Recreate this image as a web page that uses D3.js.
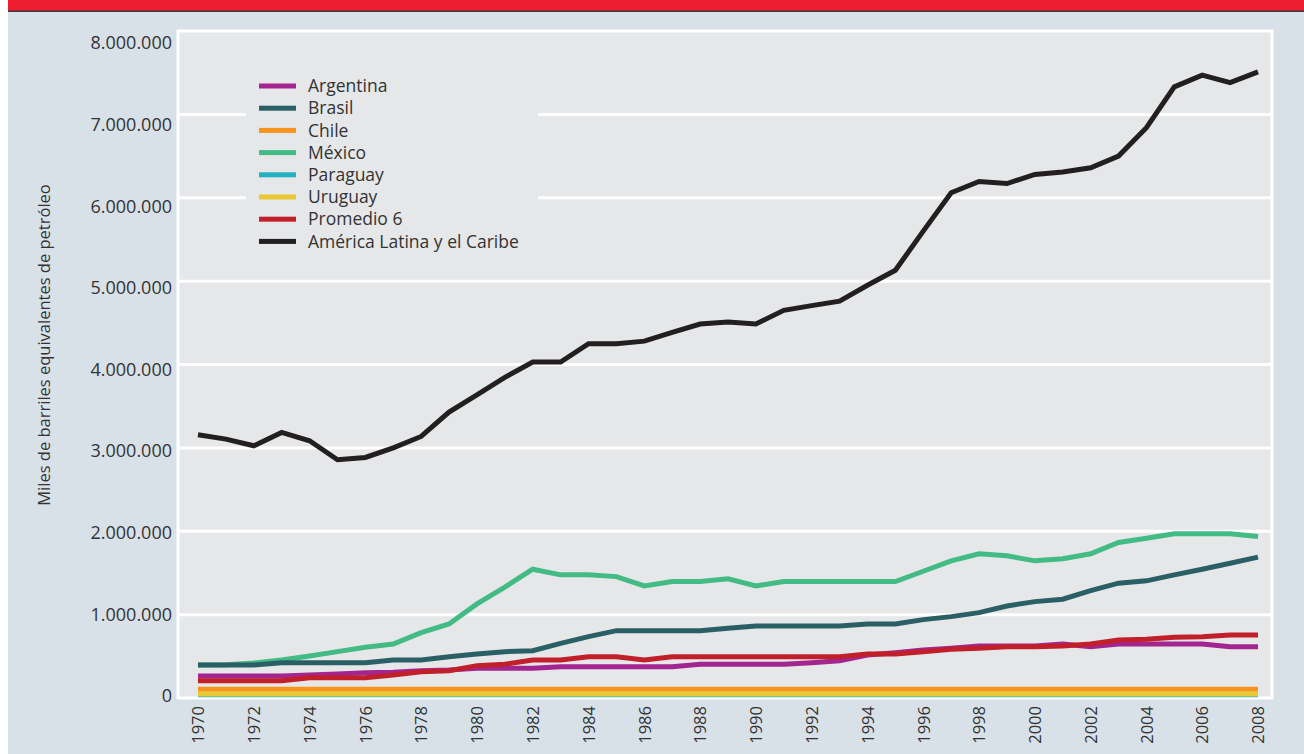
<!DOCTYPE html>
<html><head><meta charset="utf-8">
<script src="https://cdn.jsdelivr.net/npm/d3@7"></script>
<style>
html,body{margin:0;padding:0;background:#fff;}
svg{display:block;font-family:"Open Sans",Lato,sans-serif;}
</style></head>
<body>
<svg id="chart" width="1304" height="754"></svg>
<script>
const years = d3.range(1970, 2009);
const yTicks = [0,1000000,2000000,3000000,4000000,5000000,6000000,7000000,8000000];
const xTickYears = [1970,1972,1974,1976,1978,1980,1982,1984,1986,1988,1990,1992,1994,1996,1998,2000,2002,2004,2006,2008];
const yTitle = "Miles de barriles equivalentes de petróleo";

const argentina = [264000,264000,264000,264000,276000,288000,304000,308000,328000,336000,356000,356000,356000,376000,376000,376000,376000,376000,404000,404000,404000,404000,424000,448000,516000,544000,576000,597000,624000,624000,624000,648000,616000,648000,648000,648000,648000,616000,616000];
const brasil = [396000,396000,396000,424000,424000,424000,424000,456000,456000,496000,528000,556000,568000,656000,736000,808000,808000,808000,808000,836000,864000,864000,864000,864000,888000,888000,940000,976000,1024000,1104000,1156000,1185000,1288000,1377000,1405000,1477000,1545000,1617000,1690000];
const chile = [104000,104000,104000,104000,104000,104000,104000,104000,104000,104000,104000,104000,104000,104000,104000,104000,104000,104000,104000,104000,104000,104000,104000,104000,104000,104000,104000,104000,104000,104000,104000,104000,104000,104000,104000,104000,104000,104000,104000];
const mexico = [396000,400000,420000,456000,504000,556000,608000,648000,784000,888000,1128000,1330000,1545000,1477000,1477000,1456000,1345000,1396000,1396000,1430000,1345000,1396000,1396000,1396000,1396000,1396000,1520000,1645000,1730000,1705000,1645000,1670000,1730000,1865000,1917000,1970000,1970000,1970000,1937000];
const paraguay = [40000,40000,40000,40000,40000,40000,40000,40000,40000,40000,40000,40000,40000,40000,40000,40000,40000,40000,40000,40000,40000,40000,40000,40000,40000,40000,40000,40000,40000,40000,40000,40000,40000,40000,40000,40000,40000,40000,40000];
const uruguay = [48000,48000,48000,48000,48000,48000,48000,48000,48000,48000,48000,48000,48000,48000,48000,48000,48000,48000,48000,48000,48000,48000,48000,48000,48000,48000,48000,48000,48000,48000,48000,48000,48000,48000,48000,48000,48000,48000,48000];
const promedio6 = [208000,208000,208000,208000,244000,244000,244000,276000,316000,328000,388000,404000,456000,456000,496000,496000,456000,496000,496000,496000,496000,496000,496000,496000,528000,528000,556000,584000,597000,616000,616000,624000,648000,696000,705000,729000,736000,756000,756000];
const americaLatina = [3157000,3105000,3025000,3185000,3085000,2857000,2885000,3000000,3137000,3430000,3637000,3845000,4030000,4030000,4250000,4250000,4280000,4385000,4485000,4510000,4485000,4650000,4706000,4760000,4950000,5130000,5600000,6060000,6195000,6170000,6280000,6310000,6360000,6500000,6840000,7330000,7470000,7380000,7510000];

const seriesNames = ["Argentina","Brasil","Chile","México","Paraguay","Uruguay","Promedio 6","América Latina y el Caribe"];
const seriesColors = ["#a3258f","#2a5f66","#f7941d","#43bb85","#20b2c0","#e8c934","#c1202a","#231f20"];
const seriesValues = [argentina, brasil, chile, mexico, paraguay, uruguay, promedio6, americaLatina];
const drawOrder = [3,1,0,6,2,4,5,7];

const svg = d3.select("#chart");
svg.append("rect").attr("x",8).attr("y",0).attr("width",1296).attr("height",754).attr("fill","#d9e1e8");
svg.append("rect").attr("x",8).attr("y",0).attr("width",1296).attr("height",11).attr("fill","#ed1c2e");
svg.append("rect").attr("x",8).attr("y",10.5).attr("width",1296).attr("height",1.5).attr("fill","#3a3a3a");

const plot = {left:178, right:1272, top:31, bottom:698};
const x = d3.scaleLinear().domain([1970,2008]).range([198,1258]);
const y = d3.scaleLinear().domain([0,8000000]).range([plot.bottom, plot.top]);
// tick labels in the original sit on a slightly compressed scale
const yLabel = d3.scaleLinear().domain([0,8000000]).range([696, 43]);

svg.append("rect").attr("x",plot.left).attr("y",plot.top).attr("width",plot.right-plot.left).attr("height",plot.bottom-plot.top)
  .attr("fill","#e6e7e9").attr("stroke","#ffffff").attr("stroke-width",3);

svg.append("g").selectAll("line").data(yTicks.filter(d=>d>0 && d<8000000)).join("line")
  .attr("x1",plot.left).attr("x2",plot.right).attr("y1",d=>y(d)).attr("y2",d=>y(d))
  .attr("stroke","#ffffff").attr("stroke-width",3);

const fmt = d => d===0 ? "0" : d3.format(",")(d).replace(/,/g,".");
const yAxis = svg.append("g").attr("transform",`translate(${plot.left},0)`)
  .call(d3.axisLeft(yLabel).tickValues(yTicks).tickFormat(fmt).tickSize(0).tickPadding(6));
yAxis.select(".domain").remove();
yAxis.selectAll("text").attr("font-size",18).attr("fill","#333").attr("font-family","'Open Sans', sans-serif")
  .attr("dy","0.32em");

const xAxis = svg.append("g").attr("transform",`translate(0,${plot.bottom})`)
  .call(d3.axisBottom(x).tickValues(xTickYears).tickFormat(d3.format("d")).tickSize(0));
xAxis.select(".domain").remove();
xAxis.selectAll("text").attr("font-size",16.5).attr("fill","#333").attr("font-family","'Open Sans', sans-serif")
  .attr("transform","rotate(-90)").attr("text-anchor","end").attr("x",-8).attr("y",0).attr("dy","0.35em");

svg.append("text").attr("transform","translate(50,345) rotate(-90)").attr("text-anchor","middle")
  .attr("font-size",16.5).attr("fill","#333").text(yTitle);

const line = d3.line().x((d,i)=>x(years[i])).y(d=>y(d));
svg.append("g").selectAll("path").data(drawOrder).join("path")
  .attr("d", k => line(seriesValues[k])).attr("fill","none")
  .attr("stroke", k => seriesColors[k]).attr("stroke-width",5).attr("stroke-linejoin","miter");

const lg = svg.append("g");
lg.append("rect").attr("x",246).attr("y",64).attr("width",292).attr("height",195).attr("fill","#e6e7e9");
const items = lg.selectAll("g.item").data(seriesNames).join("g").attr("class","item")
  .attr("transform",(d,i)=>`translate(259,${86 + i*22.2})`);
items.append("rect").attr("x",0).attr("y",-2.5).attr("width",37).attr("height",5).attr("fill",(d,i)=>seriesColors[i]);
items.append("text").attr("x",49).attr("y",0).attr("dy","0.35em").attr("font-size",17.5).attr("fill","#333").text(d=>d);
</script>
</body></html>
